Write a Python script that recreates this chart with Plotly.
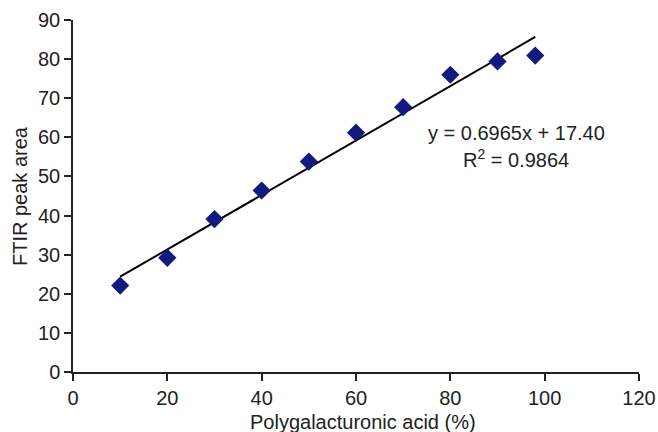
import plotly.graph_objects as go

x_vals = [10, 20, 30, 40, 50, 60, 70, 80, 90, 98]
y_vals = [22.1, 29.2, 39.1, 46.4, 53.8, 61.2, 67.7, 76.0, 79.4, 80.9]
slope = 0.6965
intercept = 17.40
eq_text = "y = 0.6965x + 17.40"
r2_text = "R<sup>2</sup> = 0.9864"
x_title = "Polygalacturonic acid (%)"
y_title = "FTIR peak area"

font_family = "Arial, Liberation Sans, sans-serif"
txt_color = "#222222"
fsize = 20
font = dict(size=fsize, color=txt_color, family=font_family)

line_x = [min(x_vals), max(x_vals)]
line_y = [slope * v + intercept for v in line_x]

fig = go.Figure()
fig.add_trace(go.Scatter(x=line_x, y=line_y, mode="lines",
                         line=dict(color="black", width=2), showlegend=False))
fig.add_trace(go.Scatter(x=x_vals, y=y_vals, mode="markers",
                         marker=dict(symbol="diamond", size=14, color="#121a7e",
                                     line=dict(width=0)),
                         showlegend=False))

fig.add_annotation(x=94, y=61.1, text=eq_text, showarrow=False, font=font)
fig.add_annotation(x=94, y=54.7, text=r2_text, showarrow=False, font=font)

# axis titles as annotations for exact placement
fig.add_annotation(xref="paper", yref="paper", x=0.5115, y=0, yshift=-50,
                   text=x_title, showarrow=False, font=font,
                   xanchor="center", yanchor="middle")
fig.add_annotation(xref="paper", yref="paper", x=0, y=0.5, xshift=-53,
                   text=y_title, showarrow=False, font=font, textangle=-90,
                   xanchor="center", yanchor="middle")

axis_common = dict(showline=True, linecolor=txt_color, linewidth=1.5,
                   ticks="outside", ticklen=7, tickwidth=1.5, tickcolor=txt_color,
                   showgrid=False, zeroline=False, automargin=False,
                   tickfont=font)

fig.update_xaxes(range=[0, 120], dtick=20, **axis_common)
fig.update_yaxes(range=[0, 90], dtick=10, **axis_common)

fig.update_layout(width=658, height=432, plot_bgcolor="white", paper_bgcolor="white",
                  margin=dict(l=73, r=19, t=20, b=60, autoexpand=False))

# remove the default page margin and scrollbars so the figure fills the window
fig.write_html("out.html",
               config={"displayModeBar": False},
               post_script="document.body.style.margin='0';"
                           "document.documentElement.style.overflow='hidden';"
                           "document.body.style.overflow='hidden';")
